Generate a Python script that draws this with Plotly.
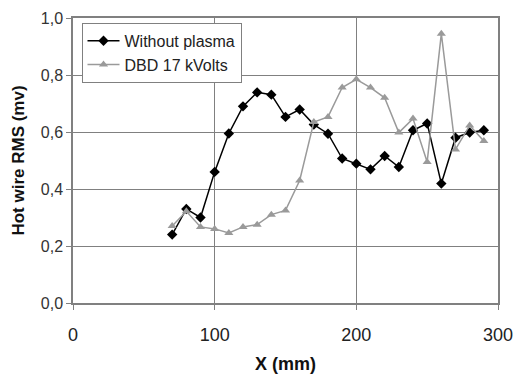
import plotly.graph_objects as go

x_mm = [70, 80, 90, 100, 110, 120, 130, 140, 150, 160, 170, 180, 190, 200, 210, 220, 230, 240, 250, 260, 270, 280, 290]
without_plasma = [0.24, 0.33, 0.30, 0.46, 0.595, 0.69, 0.739, 0.731, 0.653, 0.679, 0.626, 0.594, 0.507, 0.489, 0.469, 0.516, 0.477, 0.606, 0.63, 0.419, 0.58, 0.598, 0.606]
dbd_17kv = [0.27, 0.322, 0.267, 0.26, 0.246, 0.267, 0.275, 0.31, 0.325, 0.43, 0.635, 0.653, 0.756, 0.785, 0.756, 0.72, 0.598, 0.647, 0.495, 0.945, 0.539, 0.623, 0.568]
x_ticks = [0, 100, 200, 300]
y_ticks = [0.0, 0.2, 0.4, 0.6, 0.8, 1.0]
y_ticklabels = ["0,0", "0,2", "0,4", "0,6", "0,8", "1,0"]

FONT = "Liberation Sans, Arial, sans-serif"

fig = go.Figure()
fig.add_trace(go.Scatter(
    x=x_mm, y=without_plasma, name="Without plasma", mode="lines+markers",
    line=dict(color="#000000", width=1.5),
    marker=dict(symbol="diamond", size=8, color="#000000"),
))
fig.add_trace(go.Scatter(
    x=x_mm, y=dbd_17kv, name="DBD 17 kVolts", mode="lines+markers",
    line=dict(color="#9a9a9a", width=1.5),
    marker=dict(symbol="triangle-up", size=8, color="#9a9a9a"),
))

axis_common = dict(
    showline=True, linecolor="#808080", linewidth=1.5, mirror=True,
    showgrid=True, gridcolor="#808080", gridwidth=1.2,
    ticks="outside", ticklen=5, tickcolor="#808080", tickwidth=1.2,
    zeroline=False, automargin=False,
)

fig.update_xaxes(
    range=[0, 300], tickvals=x_ticks,
    title=dict(text="<b>X (mm)</b>", font=dict(family=FONT, size=18, color="#111111"), standoff=14),
    tickfont=dict(family=FONT, size=18, color="#222222"),
    ticklabelstandoff=10,
    **axis_common
)
fig.update_yaxes(
    range=[0, 1.0], tickvals=y_ticks, ticktext=y_ticklabels,
    title=dict(text="<b>Hot wire RMS (mv)</b>", font=dict(family=FONT, size=17, color="#111111"), standoff=12),
    tickfont=dict(family=FONT, size=16, color="#333333"),
    **axis_common
)

fig.update_layout(
    width=517, height=374,
    margin=dict(l=73, r=19, t=18, b=71),
    paper_bgcolor="white", plot_bgcolor="white",
    showlegend=True,
    legend=dict(
        x=0.02, y=0.983, xanchor="left", yanchor="top",
        bgcolor="white", bordercolor="#808080", borderwidth=1,
        font=dict(family=FONT, size=16, color="#222222"),
        itemwidth=32, tracegroupgap=0,
    ),
    font=dict(family=FONT),
)

fig.write_html("out.html", config={"displayModeBar": False},
               post_script="document.body.style.margin='0';")
